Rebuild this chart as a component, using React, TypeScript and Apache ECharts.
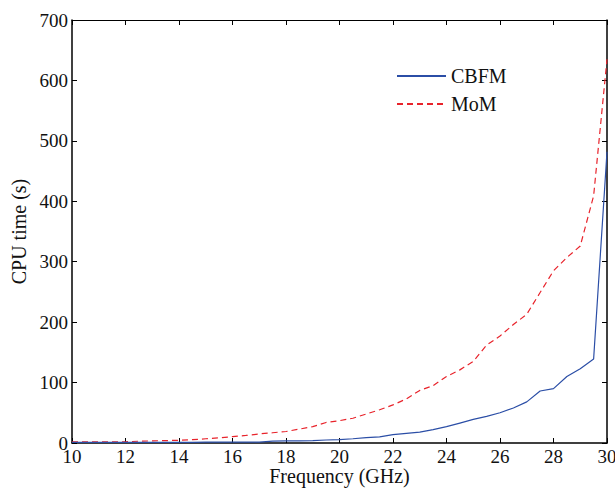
import React, { useEffect, useRef } from "react";
import * as echarts from "echarts";

const freqs = [10, 10.5, 11, 11.5, 12, 12.5, 13, 13.5, 14, 14.5, 15, 15.5, 16, 16.5, 17, 17.5, 18, 18.5, 19, 19.5, 20, 20.5, 21, 21.5, 22, 22.5, 23, 23.5, 24, 24.5, 25, 25.5, 26, 26.5, 27, 27.5, 28, 28.5, 29, 29.5, 30];
const cbfm = [1, 1, 1, 1, 1, 1, 1, 1, 1, 1, 1.5, 1.5, 1.5, 1.5, 1.5, 3, 3.5, 3.5, 4, 5, 5.5, 7, 9, 10, 14, 16, 18, 22, 27, 33, 39, 44, 50, 58, 68, 86, 90, 110, 123, 139, 482];
const mom = [2, 2, 2, 2, 2, 3, 3.5, 4, 4.5, 5.5, 7, 8.5, 10.5, 12.5, 15, 17, 19, 23, 27, 34, 37, 41, 48, 55, 63, 73, 87, 95, 110, 121, 135, 162, 177, 196, 213, 249, 285, 307, 326, 409, 635];
const xTicks = [10, 12, 14, 16, 18, 20, 22, 24, 26, 28, 30];
const yTicks = [0, 100, 200, 300, 400, 500, 600, 700];

const FONT = "Liberation Serif";
const BLUE = "#2b4ea6";
const RED = "#e8232b";

export default function App() {
  const ref = useRef<HTMLDivElement>(null);
  useEffect(() => {
    const chart = echarts.init(ref.current!, null, { renderer: "svg" });
    const axisCommon = {
      axisLine: { show: true, onZero: false, lineStyle: { color: "#000", width: 1.5 } },
      axisTick: { show: true, inside: true, length: 5, lineStyle: { color: "#000", width: 1 } },
      splitLine: { show: false },
    };
    chart.setOption({
      animation: false,
      backgroundColor: "#fff",
      textStyle: { fontFamily: FONT },
      grid: { left: 72, right: 8, top: 20, bottom: 46, containLabel: false, outerBoundsMode: "none" },
      legend: {
        orient: "vertical",
        left: 396,
        top: 66,
        padding: 0,
        itemWidth: 49,
        itemHeight: 12,
        itemGap: 8,
        itemStyle: { opacity: 0 },
        textStyle: { fontFamily: FONT, fontSize: 20, color: "#111" },
        data: ["CBFM", "MoM"],
      },
      xAxis: [
        {
          type: "value",
          min: 10,
          max: 30,
          interval: 2,
          name: "Frequency (GHz)",
          nameLocation: "middle",
          nameGap: 23,
          nameMoveOverlap: false,
          nameTextStyle: { fontFamily: FONT, fontSize: 20, color: "#111" },
          axisLabel: {
            fontFamily: FONT,
            fontSize: 19,
            color: "#111",
            margin: 4,
            formatter: (v: number) => (xTicks.includes(v) ? String(v) : ""),
          },
          ...axisCommon,
        },
        {
          type: "value",
          position: "top",
          min: 10,
          max: 30,
          interval: 2,
          axisLabel: { show: false },
          ...axisCommon,
          axisLine: { show: true, onZero: false, lineStyle: { color: "#000", width: 1 } },
        },
      ],
      yAxis: [
        {
          type: "value",
          min: 0,
          max: 700,
          interval: 100,
          name: "CPU time (s)",
          nameLocation: "middle",
          nameGap: 43,
          nameMoveOverlap: false,
          nameRotate: 90,
          nameTextStyle: { fontFamily: FONT, fontSize: 20, color: "#111" },
          axisLabel: {
            fontFamily: FONT,
            fontSize: 19,
            color: "#111",
            margin: 4,
            formatter: (v: number) => (yTicks.includes(v) ? String(v) : ""),
          },
          ...axisCommon,
        },
        {
          type: "value",
          position: "right",
          min: 0,
          max: 700,
          interval: 100,
          axisLabel: { show: false },
          ...axisCommon,
        },
      ],
      series: [
        {
          name: "CBFM",
          type: "line",
          data: freqs.map((f, i) => [f, cbfm[i]]),
          showSymbol: false,
          symbol: "none",
          lineStyle: { color: BLUE, width: 1.2 },
          itemStyle: { color: BLUE },
          z: 3,
        },
        {
          name: "MoM",
          type: "line",
          data: freqs.map((f, i) => [f, mom[i]]),
          showSymbol: false,
          symbol: "none",
          lineStyle: { color: RED, width: 1.2, type: [6, 4] },
          itemStyle: { color: RED },
          z: 2,
        },
      ],
    });
    return () => chart.dispose();
  }, []);
  return <div ref={ref} style={{ position: "fixed", left: 0, top: 0, width: 615, height: 489 }} />;
}
